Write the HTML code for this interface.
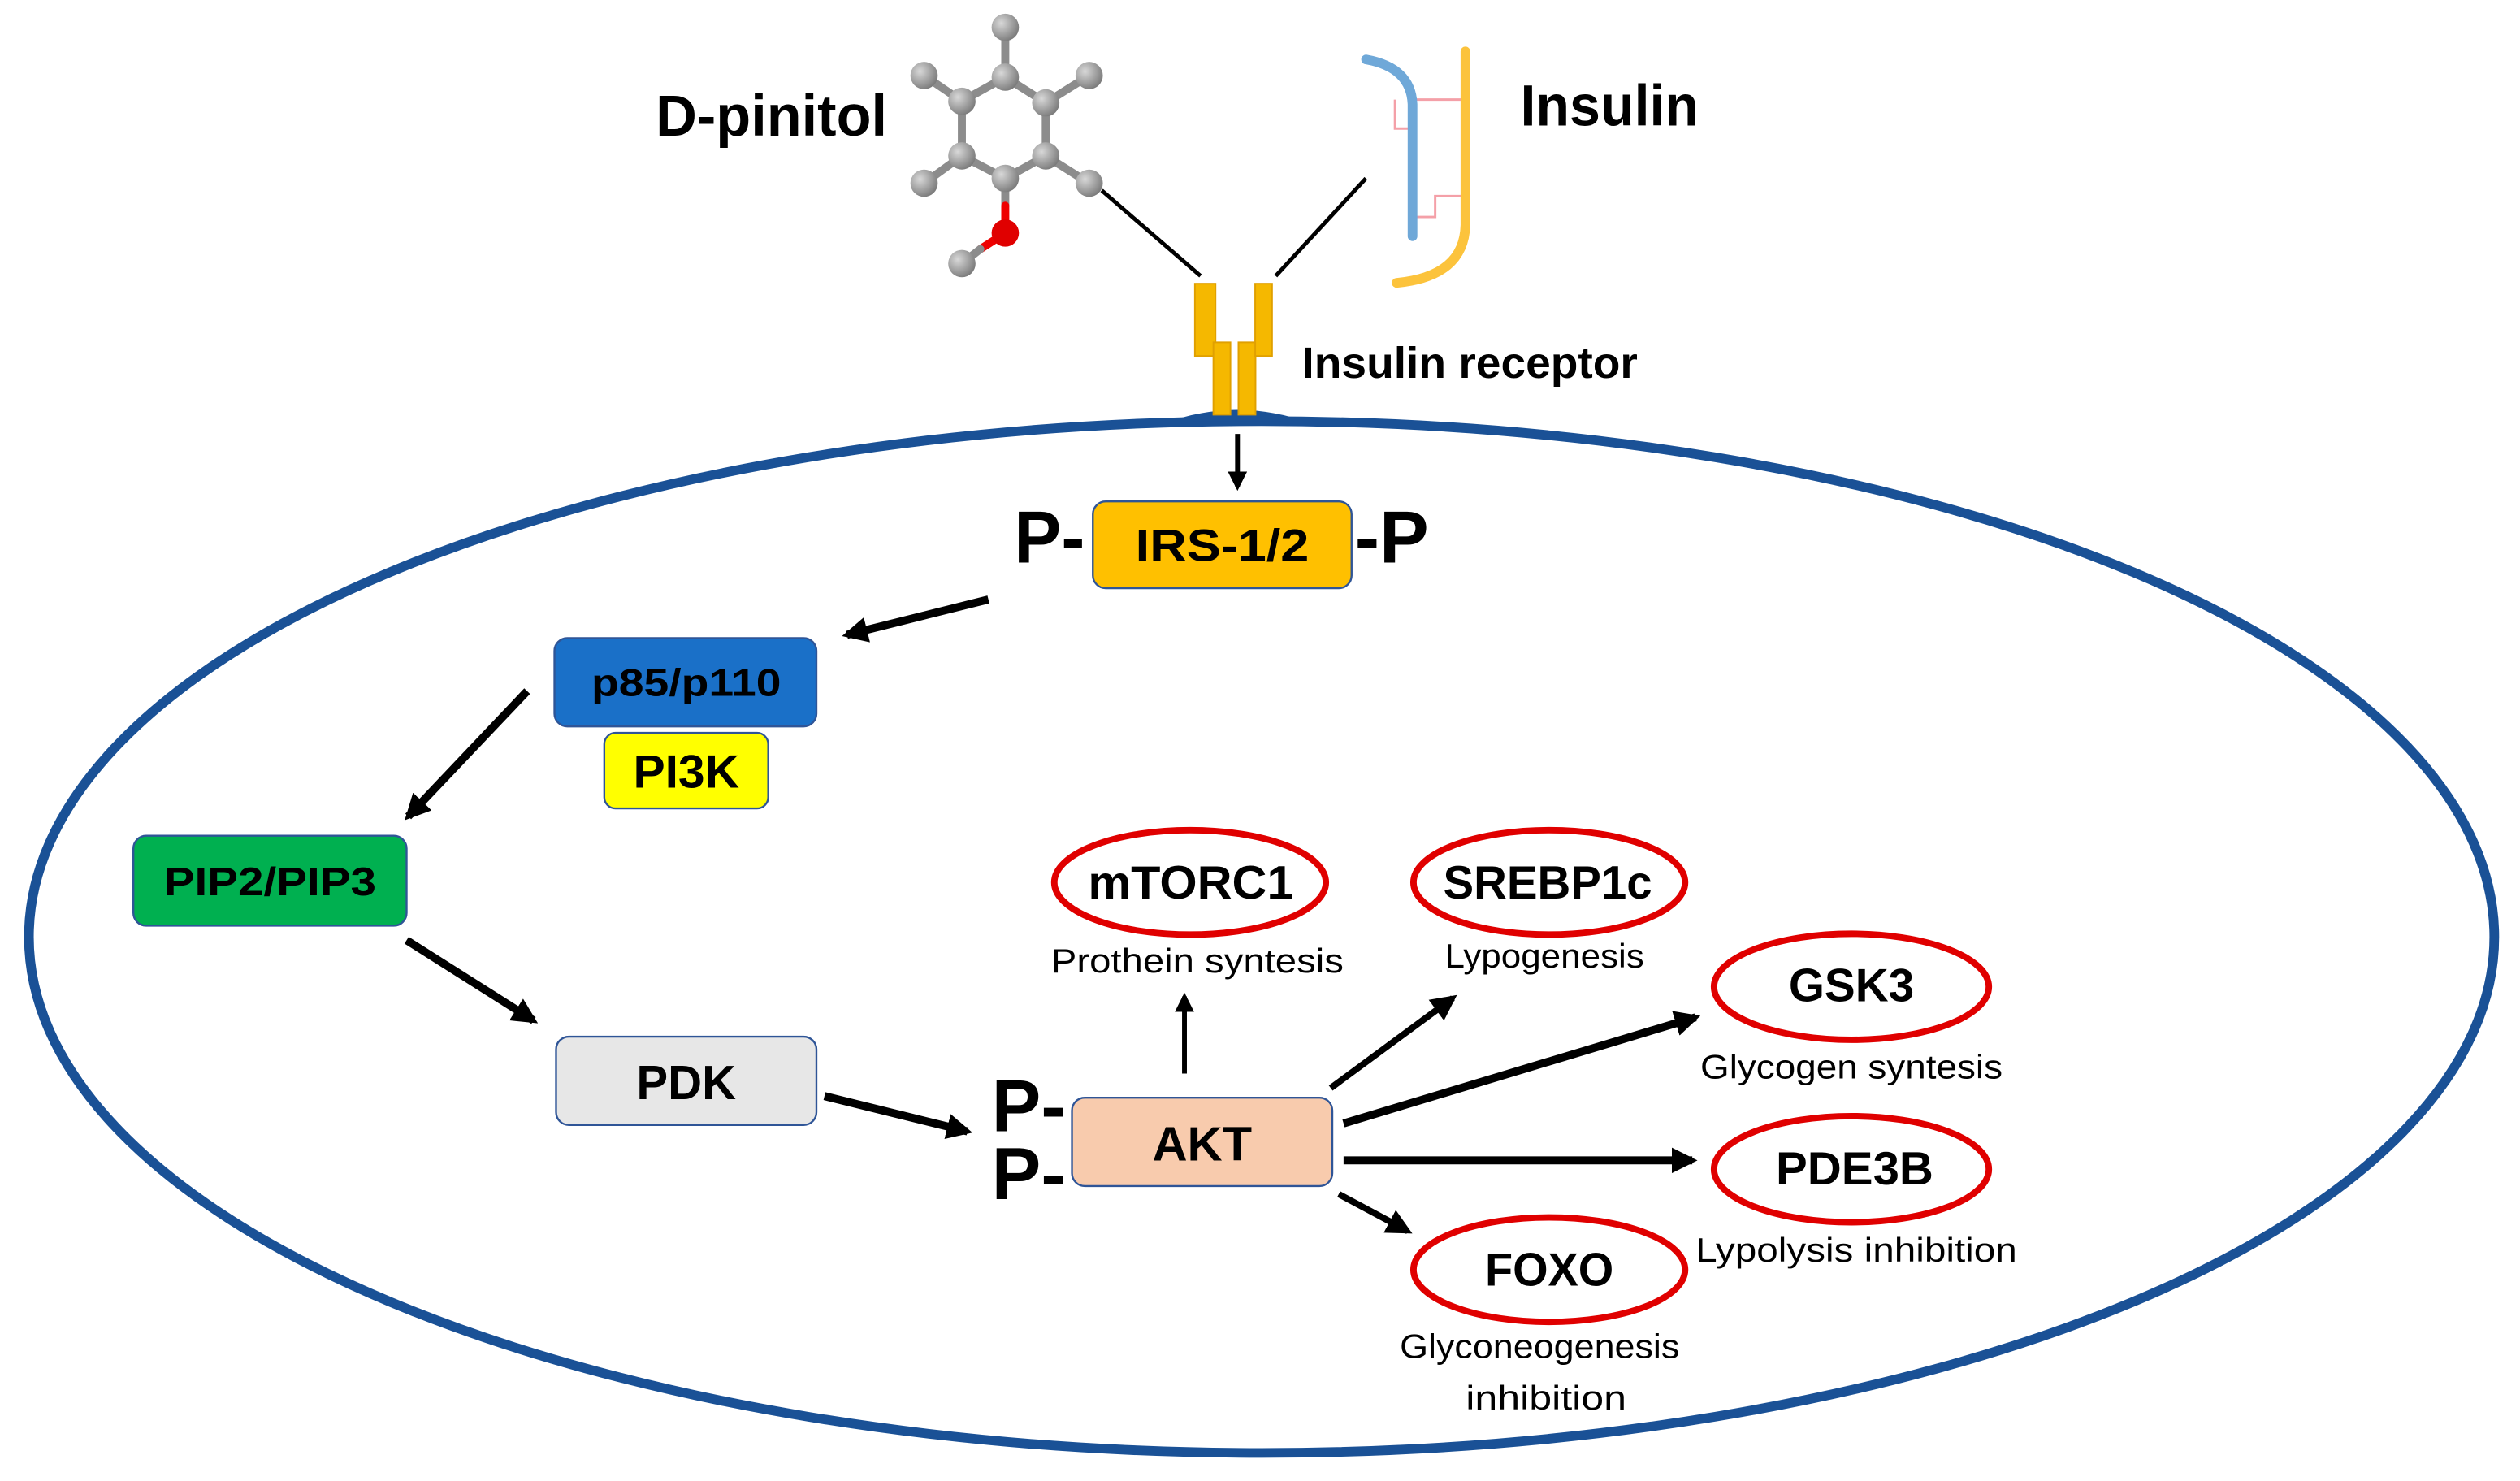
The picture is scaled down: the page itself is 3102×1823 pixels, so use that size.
<!DOCTYPE html>
<html><head><meta charset="utf-8">
<style>
html,body{margin:0;padding:0;background:#fff;}
svg{display:block;}
text{font-family:"Liberation Sans",sans-serif;}
</style></head>
<body>
<svg width="3102" height="1823" viewBox="0 0 1568 921.5" preserveAspectRatio="none" xmlns="http://www.w3.org/2000/svg">
<defs>
<marker id="ah" viewBox="0 0 10 10" refX="8" refY="5" markerWidth="4" markerHeight="4" orient="auto-start-reverse" markerUnits="strokeWidth">
<path d="M0,0 L10,5 L0,10 z" fill="#000"/>
</marker>
<marker id="ah2" viewBox="0 0 10 10" refX="8" refY="5" markerWidth="3.2" markerHeight="3.2" orient="auto" markerUnits="strokeWidth">
<path d="M0,0 L10,5 L0,10 z" fill="#000"/>
</marker>
<radialGradient id="atom" cx="0.35" cy="0.35" r="0.7">
<stop offset="0" stop-color="#d8d8d8"/><stop offset="1" stop-color="#7a7a7a"/>
</radialGradient>
</defs>

<ellipse cx="785" cy="583" rx="767" ry="321" fill="none" stroke="#1a5196" stroke-width="6"/>
<path d="M735,262 Q770,252 805,262" fill="#1a5196" stroke="#1a5196" stroke-width="4"/>

<g stroke="#8c8c8c" stroke-width="5" stroke-linecap="round">
<line x1="625.5" y1="17" x2="625.5" y2="48"/>
<line x1="625.5" y1="48" x2="598.5" y2="63"/>
<line x1="625.5" y1="48" x2="650.7" y2="64"/>
<line x1="598.5" y1="63" x2="598.5" y2="97"/>
<line x1="650.7" y1="64" x2="650.7" y2="97"/>
<line x1="598.5" y1="97" x2="625.5" y2="111"/>
<line x1="650.7" y1="97" x2="625.5" y2="111"/>
<line x1="598.5" y1="63" x2="575" y2="47"/>
<line x1="650.7" y1="64" x2="677.7" y2="47"/>
<line x1="598.5" y1="97" x2="575" y2="114"/>
<line x1="650.7" y1="97" x2="677.7" y2="114"/>
<line x1="625.5" y1="111" x2="625.5" y2="128"/>
</g>
<g stroke-width="5" stroke-linecap="round">
<line x1="625.5" y1="128" x2="625.5" y2="145" stroke="#e00"/>
<line x1="625.5" y1="145" x2="610" y2="155" stroke="#e00"/>
<line x1="610" y1="155" x2="598.5" y2="164" stroke="#8c8c8c"/>
</g>
<g fill="url(#atom)">
<circle cx="625.5" cy="17" r="8.5"/>
<circle cx="625.5" cy="48" r="8.5"/>
<circle cx="598.5" cy="63" r="8.5"/>
<circle cx="650.7" cy="64" r="8.5"/>
<circle cx="598.5" cy="97" r="8.5"/>
<circle cx="650.7" cy="97" r="8.5"/>
<circle cx="625.5" cy="111" r="8.5"/>
<circle cx="575" cy="47" r="8.5"/>
<circle cx="677.7" cy="47" r="8.5"/>
<circle cx="575" cy="114" r="8.5"/>
<circle cx="677.7" cy="114" r="8.5"/>
<circle cx="598.5" cy="164" r="8.5"/>
</g>
<circle cx="625.5" cy="145" r="8.5" fill="#e00000"/>

<line x1="685.5" y1="118.5" x2="747" y2="171.7" stroke="#000" stroke-width="2.5"/>
<line x1="849.9" y1="111" x2="793.8" y2="171.7" stroke="#000" stroke-width="2.5"/>

<path d="M868,62 L868,80 L877,80" fill="none" stroke="#f4a0a8" stroke-width="1.5"/>
<line x1="878" y1="62" x2="910" y2="62" stroke="#f4a0a8" stroke-width="1.5"/>
<path d="M879,135 L893,135 L893,122 L910,122" fill="none" stroke="#f4a0a8" stroke-width="1.5"/>
<path d="M850,37 Q878,42 878.9,65 L878.9,147" fill="none" stroke="#6fa8d8" stroke-width="6" stroke-linecap="round"/>
<path d="M911.8,32 L911.8,140 Q911,172 869,176" fill="none" stroke="#fcc33c" stroke-width="6" stroke-linecap="round"/>

<g fill="#f5b800" stroke="#e0a000" stroke-width="1">
<rect x="743.5" y="176.5" width="12.8" height="45"/>
<rect x="755" y="213" width="10.6" height="45"/>
<rect x="770.6" y="213" width="10.6" height="45"/>
<rect x="781" y="176.5" width="10.5" height="45"/>
</g>

<text x="408" y="84.5" font-size="36" font-weight="bold" textLength="144" lengthAdjust="spacingAndGlyphs">D-pinitol</text>
<text x="946" y="78" font-size="36" font-weight="bold" textLength="111" lengthAdjust="spacingAndGlyphs">Insulin</text>
<text x="810" y="235" font-size="27" font-weight="bold" textLength="209" lengthAdjust="spacingAndGlyphs">Insulin receptor</text>

<g stroke="#000" stroke-width="5" fill="none">
<line x1="770" y1="270" x2="770" y2="303" stroke-width="3" marker-end="url(#ah)"/>
<line x1="615" y1="373" x2="527" y2="395" marker-end="url(#ah2)"/>
<line x1="328" y1="430" x2="254" y2="508" marker-end="url(#ah2)"/>
<line x1="253" y1="585" x2="332" y2="635" marker-end="url(#ah2)"/>
<line x1="513" y1="682" x2="602" y2="704" marker-end="url(#ah2)"/>
<line x1="737" y1="668" x2="737" y2="620" stroke-width="3" marker-end="url(#ah)"/>
<line x1="828" y1="677" x2="904" y2="621" stroke-width="4" marker-end="url(#ah)"/>
<line x1="836" y1="699" x2="1055" y2="633" marker-end="url(#ah2)"/>
<line x1="836" y1="722" x2="1053" y2="722" marker-end="url(#ah2)"/>
<line x1="833" y1="743" x2="876" y2="766" stroke-width="4" marker-end="url(#ah)"/>
</g>

<rect x="680" y="312" width="161" height="54" rx="8" fill="#ffc000" stroke="#2f5597" stroke-width="1.2"/>
<text x="760.5" y="349" font-size="28" font-weight="bold" text-anchor="middle" textLength="108" lengthAdjust="spacingAndGlyphs">IRS-1/2</text>
<text x="631" y="350" font-size="46" font-weight="bold" textLength="44" lengthAdjust="spacingAndGlyphs">P-</text>
<text x="843" y="350" font-size="46" font-weight="bold" textLength="46" lengthAdjust="spacingAndGlyphs">-P</text>

<rect x="345" y="397" width="163" height="55" rx="8" fill="#1a70c8" stroke="#2f5597" stroke-width="1.2"/>
<text x="427" y="433" font-size="24" font-weight="bold" text-anchor="middle" textLength="118" lengthAdjust="spacingAndGlyphs">p85/p110</text>
<rect x="376" y="456" width="102" height="47" rx="7" fill="#ffff00" stroke="#2f5597" stroke-width="1.2"/>
<text x="427" y="490" font-size="29" font-weight="bold" text-anchor="middle" textLength="66" lengthAdjust="spacingAndGlyphs">PI3K</text>

<rect x="83" y="520" width="170" height="56" rx="8" fill="#00b050" stroke="#2f5597" stroke-width="1.2"/>
<text x="168" y="557" font-size="25" font-weight="bold" text-anchor="middle" textLength="132" lengthAdjust="spacingAndGlyphs">PIP2/PIP3</text>

<rect x="346" y="645" width="162" height="55" rx="8" fill="#e7e7e7" stroke="#2f5597" stroke-width="1.2"/>
<text x="427" y="684" font-size="30" font-weight="bold" text-anchor="middle" textLength="62" lengthAdjust="spacingAndGlyphs">PDK</text>

<text x="617" y="704" font-size="46" font-weight="bold" textLength="46" lengthAdjust="spacingAndGlyphs">P-</text>
<text x="617" y="746" font-size="46" font-weight="bold" textLength="46" lengthAdjust="spacingAndGlyphs">P-</text>
<rect x="667" y="683" width="162" height="55" rx="8" fill="#f8cbad" stroke="#2f5597" stroke-width="1.2"/>
<text x="748" y="722" font-size="30" font-weight="bold" text-anchor="middle" textLength="62" lengthAdjust="spacingAndGlyphs">AKT</text>

<g fill="#fff" stroke="#e00000" stroke-width="4">
<ellipse cx="740.5" cy="549" rx="84.5" ry="32.5"/>
<ellipse cx="964" cy="549" rx="84.5" ry="32.5"/>
<ellipse cx="1152" cy="614" rx="85.5" ry="33"/>
<ellipse cx="1152" cy="727.5" rx="85.5" ry="33"/>
<ellipse cx="964" cy="790" rx="84.5" ry="32.5"/>
</g>
<g font-weight="bold" font-size="29" text-anchor="middle">
<text x="741" y="559" textLength="128" lengthAdjust="spacingAndGlyphs">mTORC1</text>
<text x="963" y="559" textLength="130" lengthAdjust="spacingAndGlyphs">SREBP1c</text>
<text x="1152" y="623" textLength="78" lengthAdjust="spacingAndGlyphs">GSK3</text>
<text x="1154" y="737" textLength="98" lengthAdjust="spacingAndGlyphs">PDE3B</text>
<text x="964" y="800" textLength="80" lengthAdjust="spacingAndGlyphs">FOXO</text>
</g>
<g font-size="21" text-anchor="middle">
<text x="745" y="605" textLength="182" lengthAdjust="spacingAndGlyphs">Prothein syntesis</text>
<text x="961" y="602" textLength="124" lengthAdjust="spacingAndGlyphs">Lypogenesis</text>
<text x="1152" y="671" textLength="188" lengthAdjust="spacingAndGlyphs">Glycogen syntesis</text>
<text x="1155" y="785" textLength="200" lengthAdjust="spacingAndGlyphs">Lypolysis inhibition</text>
<text x="958" y="845" textLength="174" lengthAdjust="spacingAndGlyphs">Glyconeogenesis</text>
<text x="962" y="877" textLength="100" lengthAdjust="spacingAndGlyphs">inhibition</text>
</g>
</svg>
</body></html>
